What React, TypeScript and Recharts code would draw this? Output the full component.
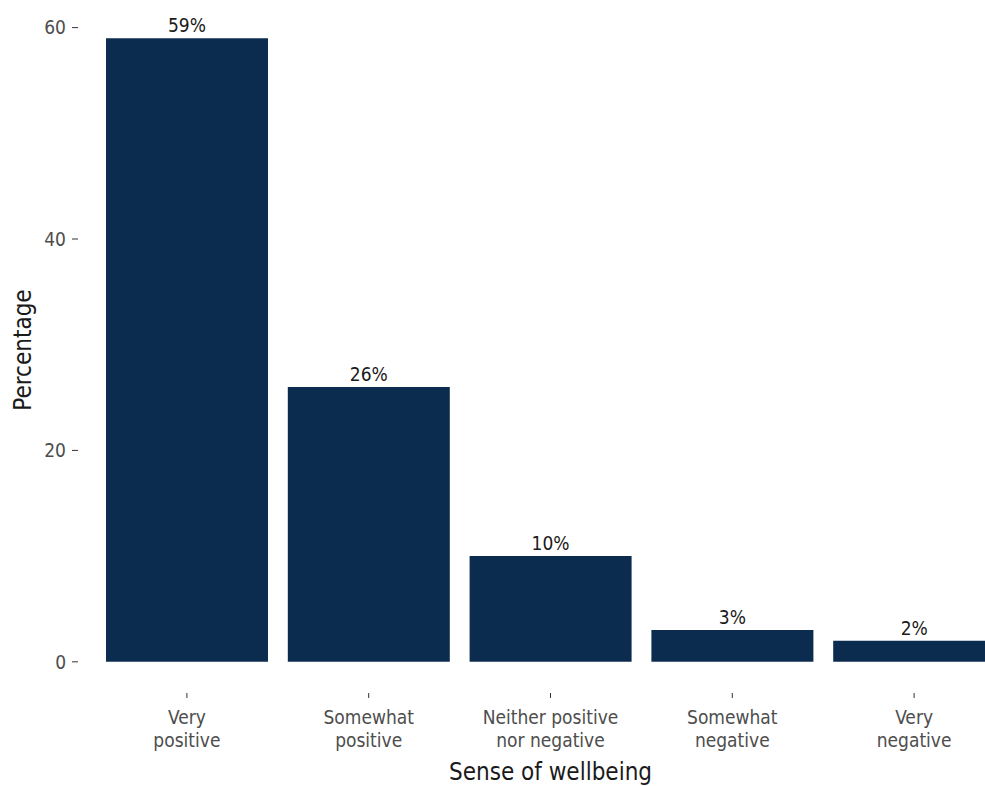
import React from 'react'
import { BarChart, Bar, XAxis, YAxis, LabelList, Label } from 'recharts'

const categories = ['Very positive', 'Somewhat positive', 'Neither positive nor negative', 'Somewhat negative', 'Very negative']
const tickLines = [
  ['Very', 'positive'],
  ['Somewhat', 'positive'],
  ['Neither positive', 'nor negative'],
  ['Somewhat', 'negative'],
  ['Very', 'negative'],
]
const percentages = [59, 26, 10, 3, 2]
const yTicks = [0, 20, 40, 60]

const chartData = categories.map((name, i) => ({ name, value: percentages[i], lines: tickLines[i] }))

const FONT = '"Liberation Sans Narrow", "DejaVu Sans Condensed", "Roboto", sans-serif'

const CategoryTick = ({ x, y, index }: { x?: number; y?: number; index?: number }) => {
  const lines = tickLines[index ?? 0] || []
  return (
    <text x={x} y={y} textAnchor="middle" fill="#4d4d4d" fontSize={19} fontFamily={FONT}>
      {lines.map((line, i) => (
        <tspan key={i} x={x} dy={i === 0 ? 24 : 23}>
          {line}
        </tspan>
      ))}
    </text>
  )
}

const YTitle = ({ viewBox }: { viewBox?: any }) => {
  const cx = 23
  const cy = viewBox ? viewBox.y + viewBox.height / 2 : 350
  return (
    <text
      x={cx}
      y={cy}
      transform={`rotate(-90, ${cx}, ${cy})`}
      textAnchor="middle"
      dominantBaseline="central"
      fill="#1a1a1a"
      fontSize={24}
      fontFamily={FONT}
    >
      Percentage
    </text>
  )
}

export default function App() {
  return (
    <div style={{ position: 'absolute', left: 0, top: 0, width: 985, height: 786, overflow: 'hidden', background: '#fff' }}>
      <BarChart width={1030} height={786} data={chartData} margin={{ top: 7, right: 7, left: 0, bottom: 0 }}>
        <XAxis
          dataKey="name"
          axisLine={false}
          tickSize={5}
          tickMargin={2}
          tickLine={{ stroke: '#333' }}
          padding={{ left: 18, right: 18 }}
          height={93}
          interval={0}
          tick={<CategoryTick />}
        >
          <Label
            value="Sense of wellbeing"
            position="insideBottom"
            offset={6}
            fill="#1a1a1a"
            fontSize={24}
            fontFamily={FONT}
          />
        </XAxis>
        <YAxis
          width={78}
          domain={[-2.95, 61.95]}
          allowDataOverflow
          ticks={yTicks}
          axisLine={false}
          tickSize={6}
          tickMargin={6}
          tickLine={{ stroke: '#333' }}
          tick={{ fill: '#4d4d4d', fontSize: 19, fontFamily: FONT }}
        >
          <Label content={<YTitle />} position="center" />
        </YAxis>
        <Bar dataKey="value" fill="#0c2c4f" barSize={162} isAnimationActive={false}>
          <LabelList
            dataKey="value"
            position="top"
            offset={6}
            formatter={(v: any) => `${v}%`}
            fill="#1a1a1a"
            fontSize={19}
            fontFamily={FONT}
          />
        </Bar>
      </BarChart>
    </div>
  )
}
